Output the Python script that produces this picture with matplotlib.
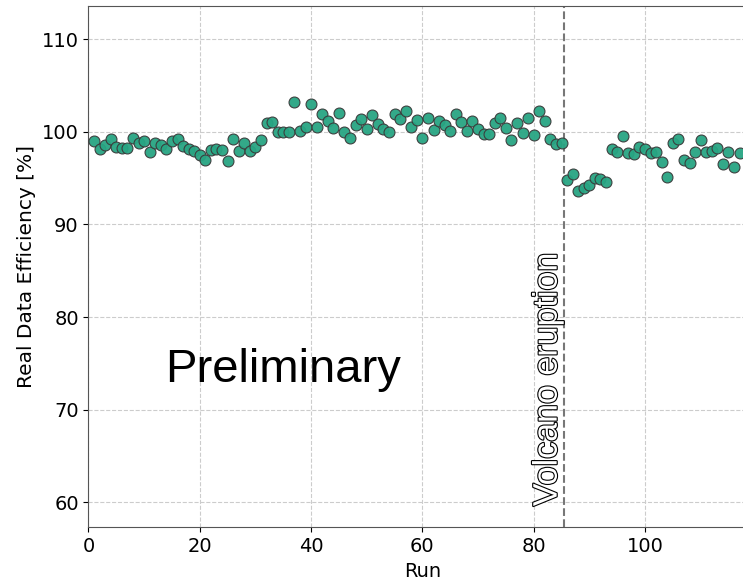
import matplotlib
matplotlib.use("Agg")
import matplotlib.pyplot as plt
import matplotlib.patheffects as pe

# run number and efficiency in percent
runs = list(range(1, 118))
efficiency = [
    98.99, 98.09, 98.53, 99.17, 98.35, 98.24, 98.24, 99.28, 98.81, 98.99,
    97.84, 98.81, 98.53, 98.17, 98.99, 99.21, 98.45, 98.09, 97.91, 97.48,
    96.94, 98.02, 98.09, 98.02, 96.83, 99.21, 97.91, 98.74, 97.91, 98.38,
    99.10, 100.90, 101.01, 100.00, 100.00, 99.93, 103.20, 100.07, 100.54, 102.95,
    100.54, 101.94, 101.12, 100.40, 102.05, 99.93, 99.28, 100.72, 101.37, 100.29,
    101.80, 100.86, 100.29, 100.00, 101.94, 101.40, 102.23, 100.54, 101.29, 99.35,
    101.44, 100.14, 101.19, 100.68, 100.11, 101.91, 101.08, 100.11, 101.12, 100.29,
    99.71, 99.71, 100.97, 101.44, 100.40, 99.10, 100.97, 99.82, 101.51, 99.64,
    102.27, 101.12, 99.21, 98.71, 98.81, 94.78, 95.40, 93.63, 93.88, 94.21,
    95.04, 94.86, 94.57, 98.09, 97.81, 99.53, 97.70, 97.59, 98.38, 98.09,
    97.73, 97.84, 96.76, 95.14, 98.81, 99.17, 96.94, 96.65, 97.77, 99.10,
    97.77, 97.95, 98.20, 96.47, 97.81, 96.15, 97.73,
]
eruption_run = 85.4


def plot():
    fig = plt.figure(figsize=(7.43, 5.88), dpi=100)
    # axes run past the right border, the original is cut there
    ax = fig.add_axes([0.1191, 0.1029, 0.8988, 0.8866])

    ax.grid(True, linestyle='--', color='#cccccc', linewidth=0.8)
    ax.set_axisbelow(True)

    ax.scatter(runs, efficiency, s=62, color='#28a583', edgecolor='#3a3a3a',
               linewidth=0.8, alpha=0.95, zorder=3)

    ax.axvline(eruption_run, color='#777777', linestyle='--', linewidth=1.5, zorder=2)
    ax.text(eruption_run - 2.8, 59.6, 'Volcano eruption', rotation=90,
            ha='center', va='bottom', fontsize=24.5, family='Liberation Sans',
            color='white',
            path_effects=[pe.withStroke(linewidth=1.6, foreground='black')])

    ax.text(13.7, 74.3, 'Preliminary', ha='left', va='center', fontsize=34,
            family='Liberation Sans')

    ax.set_xlim(0, 120)
    ax.set_ylim(57.3, 113.55)
    ax.set_xticks([0, 20, 40, 60, 80, 100])
    ax.set_yticks([60, 70, 80, 90, 100, 110])
    ax.tick_params(labelsize=14)
    for s in ax.spines.values():
        s.set_color('#555555')

    ax.set_xlabel('Run', fontsize=14, labelpad=4)
    ax.set_ylabel('Real Data Efficiency [%]', fontsize=14.5)

    fig.savefig('out.png', dpi=100)


def main():
    plot()


if __name__ == "__main__":
    main()
